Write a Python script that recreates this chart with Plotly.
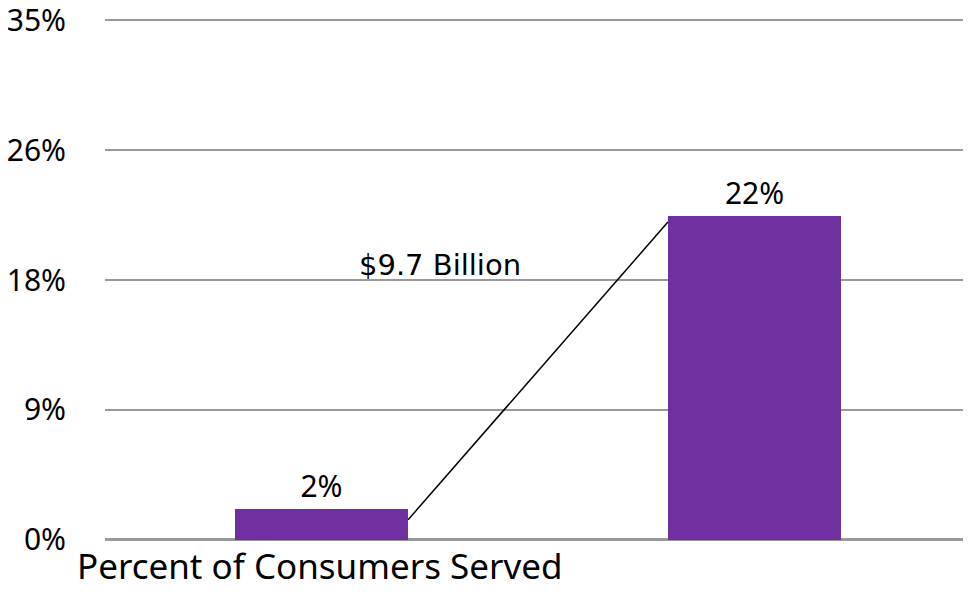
import plotly.graph_objects as go

categories = [0, 1]
values = [2.1, 21.8]
value_labels = ["2%", "22%"]
tick_vals = [0, 8.75, 17.5, 26.25, 35]
tick_text = ["0%", "9%", "18%", "26%", "35%"]
line_x = [0.2, 0.8]
line_y = [1.35, 21.4]
annotation_text = "$9.7 Billion"
axis_title = "Percent of Consumers Served"

fig = go.Figure()
fig.add_trace(go.Bar(
    x=categories, y=values, width=0.4,
    marker=dict(color="#7030A0", line=dict(width=0)),
    text=value_labels, textposition="outside", cliponaxis=False,
    textfont=dict(family="Noto Sans", size=30, color="#000000"),
    hoverinfo="skip",
))
fig.add_trace(go.Scatter(
    x=line_x, y=line_y, mode="lines",
    line=dict(color="#000000", width=1.5), hoverinfo="skip",
))
fig.add_annotation(
    x=0.274, y=18.5, xref="x", yref="y", text=annotation_text, showarrow=False,
    font=dict(family="DejaVu Sans", size=29, color="#000000"),
)
fig.add_annotation(
    x=-0.035, y=-0.044, xref="paper", yref="paper", text=axis_title, showarrow=False,
    xanchor="left", yanchor="middle",
    font=dict(family="Noto Sans", size=35, color="#000000"),
)

fig.update_layout(
    width=971, height=595,
    margin=dict(l=97, r=8, t=10, b=61),
    paper_bgcolor="white", plot_bgcolor="white",
    showlegend=False,
    bargap=0,
    xaxis=dict(range=[-0.5, 1.5], showticklabels=False, showgrid=False,
               zeroline=False, showline=False, fixedrange=True, automargin=False),
    yaxis=dict(range=[-0.15, 35.15], tickvals=tick_vals, ticktext=tick_text,
               showgrid=True, gridcolor="#999999", gridwidth=2,
               zeroline=True, zerolinecolor="#999999", zerolinewidth=3,
               showline=False, automargin=False, ticklabeloverflow="allow",
               tickfont=dict(family="Noto Sans", size=30, color="#000000"),
               ticklabelstandoff=38),
)
fig.write_html("out.html")
